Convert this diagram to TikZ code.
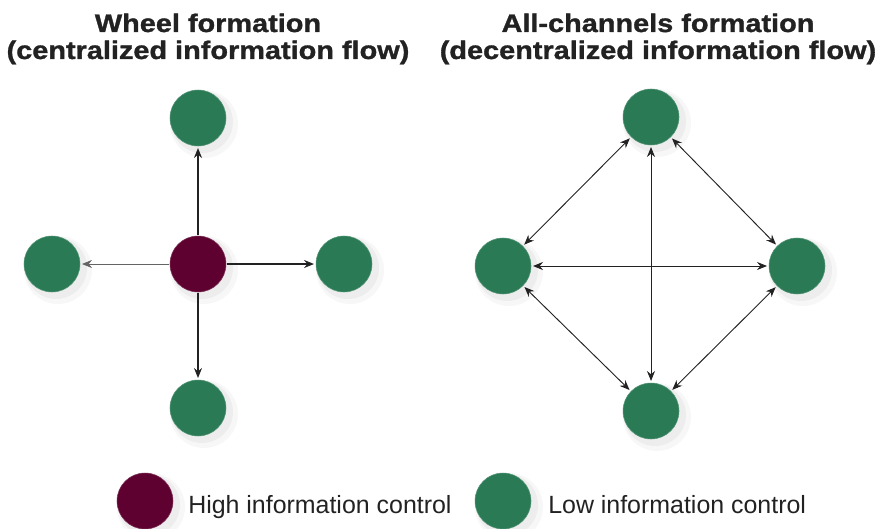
\documentclass[tikz,border=0pt]{standalone}
\usepackage{fontspec}
\setmainfont{Liberation Sans}
\newfontfamily\ttlfont[FakeStretch=1.14,BoldFeatures={FakeBold=1.2}]{Liberation Sans}
\usetikzlibrary{arrows.meta}
\definecolor{maroon}{HTML}{5E0030}
\definecolor{grn}{HTML}{2A7A55}
\definecolor{ink}{HTML}{222222}
\begin{document}
\begin{tikzpicture}[x=0.75pt,y=-0.75pt,
  low/.style={circle,inner sep=0pt,outer sep=1.5pt,minimum size=42pt,fill=grn,draw=grn!80!white,line width=0.4pt},
  high/.style={circle,inner sep=0pt,outer sep=0.5pt,minimum size=42pt,fill=maroon,draw=maroon!80!white,line width=0.4pt},
  con/.style={draw=ink,line width=0.7pt,-{Stealth[length=7.5pt,width=6pt,inset=2.5pt]}},
  bicon/.style={draw=ink,line width=0.7pt,{Stealth[length=7.5pt,width=6pt,inset=2.5pt]}-{Stealth[length=7.5pt,width=6pt,inset=2.5pt]}},
  ttl/.style={font=\ttlfont\fontsize{19}{22}\selectfont\bfseries,text=ink,anchor=base,inner sep=0pt},
  lbl/.style={font=\fontsize{18.7}{22}\selectfont,text=ink,anchor=base west,inner sep=0pt}]
\useasboundingbox (0,0) rectangle (884,528);
% shadows
\foreach \px/\py in {198/118,52/264,198/264,344/264,198/408,651/117,503/266,797/266,651/411,145/501,503/501}{
  \fill[black,opacity=0.03] (\px+6,\py+6) circle (34);
  \fill[black,opacity=0.04] (\px+4,\py+4) circle (31);
}
% titles
\node[ttl] (t1a) at (208,32) {Wheel formation};
\node[ttl] (t1b) at (208,59) {(centralized information flow)};
\node[ttl] (t2a) at (658,32) {All-channels formation};
\node[ttl] (t2b) at (658,59) {(decentralized information flow)};
% wheel
\node[high] (c) at (198,264) {};
\node[low] (wt) at (198,118) {};
\node[low] (wl) at (52,264) {};
\node[low] (wr) at (344,264) {};
\node[low] (wb) at (198,408) {};
\draw[con,line width=1.2pt] (c) -- (wt);
\draw[con,line width=1.2pt] (c) -- (wr);
\draw[con,draw=ink!70,line width=0.6pt] (c) -- (wl);
\draw[con,line width=0.8pt] (c) -- (wb);
% all channels
\node[low] (at) at (651,117) {};
\node[low] (al) at (503,266) {};
\node[low] (ar) at (797,266) {};
\node[low] (ab) at (651,411) {};
\draw[bicon] (at) -- (al);
\draw[bicon] (at) -- (ar);
\draw[bicon] (ab) -- (al);
\draw[bicon] (ab) -- (ar);
\draw[bicon] (al) -- (ar);
\draw[bicon] (at) -- (ab);
% legend
\node[high] (lh) at (145,501) {};
\node[lbl] (lht) at (188,513) {High information control};
\node[low] (ll) at (503,501) {};
\node[lbl] (llt) at (548,513) {Low information control};
\end{tikzpicture}
\end{document}
